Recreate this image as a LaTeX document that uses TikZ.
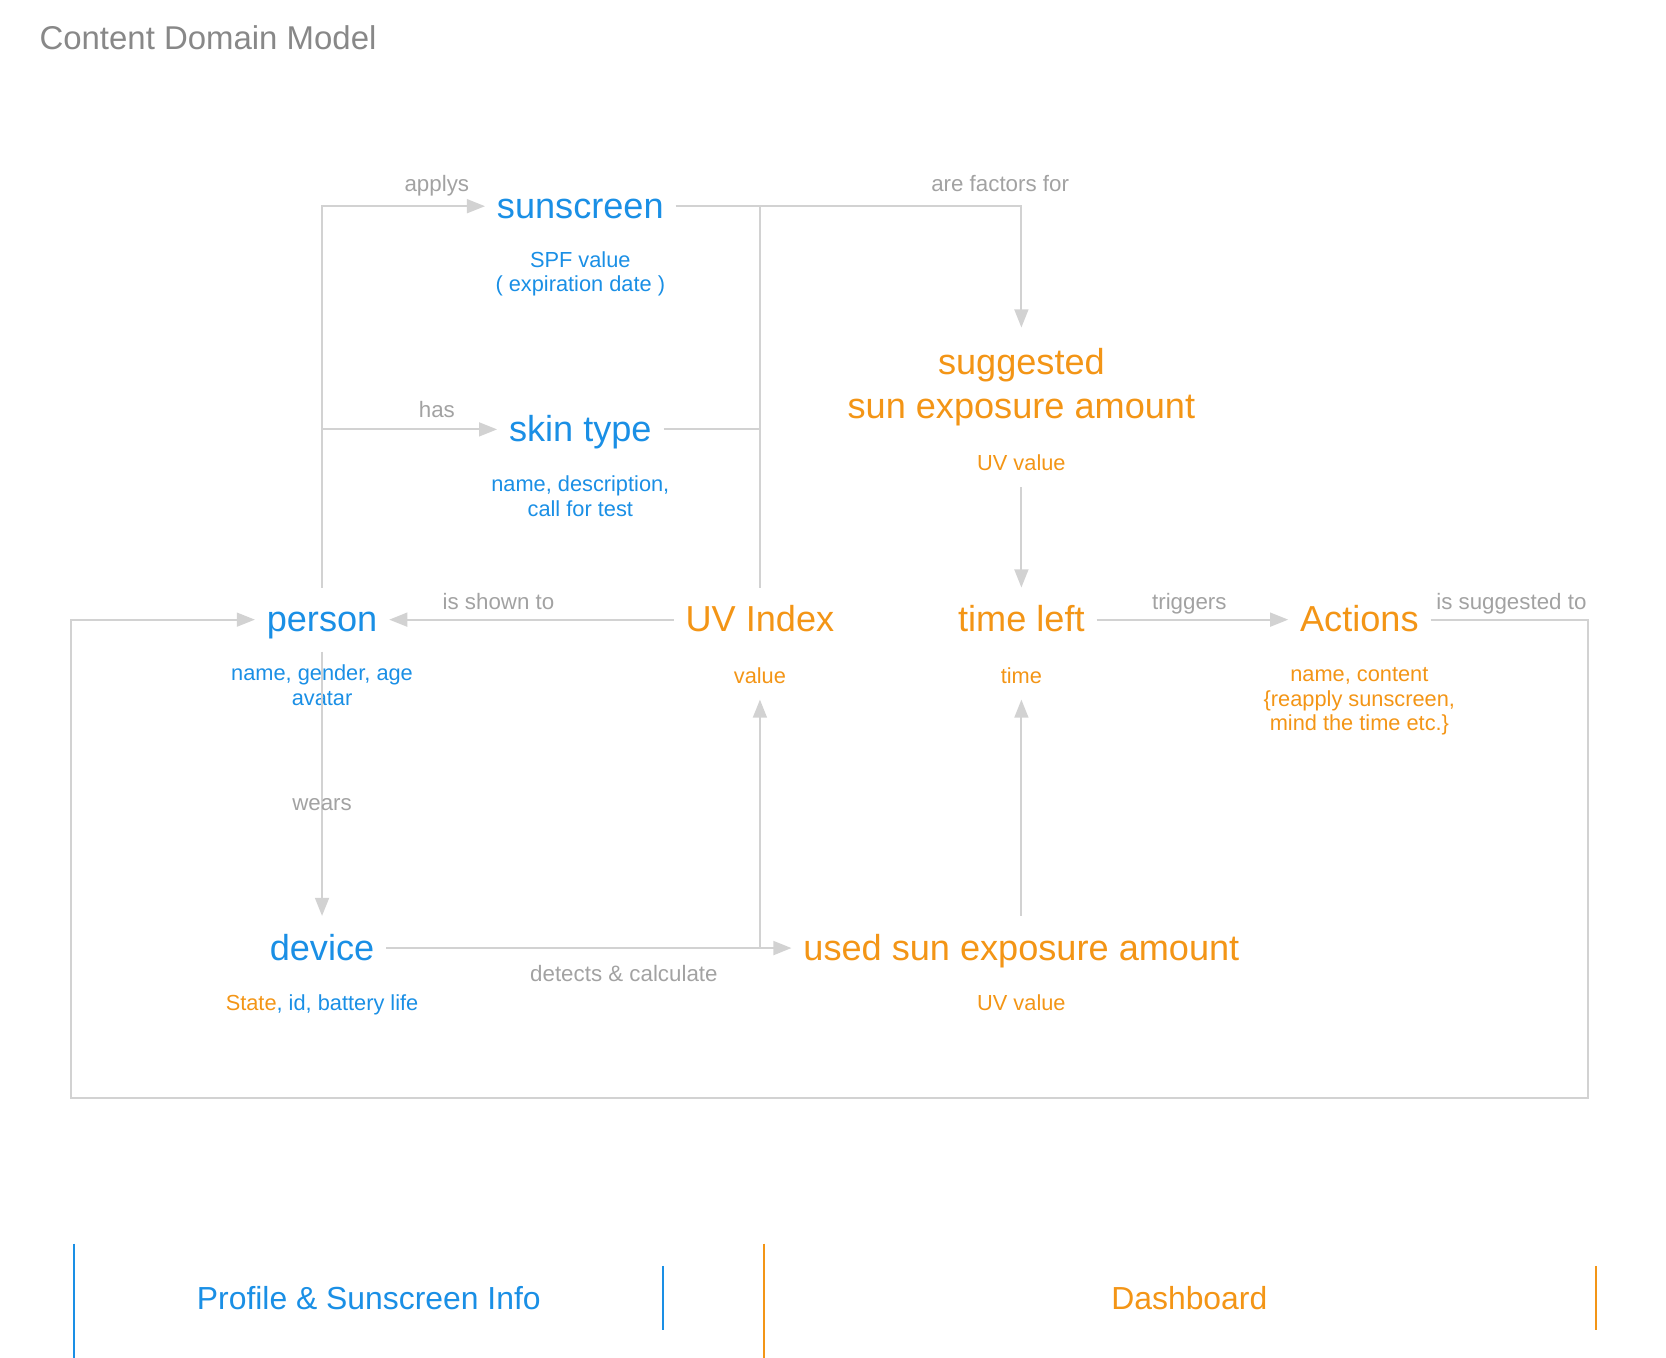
\documentclass[tikz,border=0pt]{standalone}
\usepackage{fontspec}
\setmainfont{Liberation Sans}
\usetikzlibrary{arrows.meta, calc}

\definecolor{skyblue}{RGB}{26,143,229}
\definecolor{sunorange}{RGB}{243,149,22}
\definecolor{linegray}{RGB}{210,210,210}
\definecolor{labelgray}{RGB}{162,162,162}
\definecolor{titlegray}{RGB}{136,136,136}

\begin{document}
\begin{tikzpicture}[x=1pt,y=-1pt,
     big/.style={font=\fontsize{34}{41}\selectfont},
     entity/.style={big,inner xsep=11pt,inner ysep=0pt,text height=41.5pt,text depth=18.5pt},
     attr/.style={inner sep=0pt,text height=30.8pt,text depth=15.2pt,font=\fontsize{20.5}{23}\selectfont},
     attrs/.style={inner sep=0pt,align=center,anchor=base,font=\fontsize{20.5}{23}\selectfont},
     rel/.style={inner sep=0pt,text height=18.5pt,text depth=2.5pt,text=labelgray,font=\fontsize{21}{24}\selectfont},
     section/.style={inner sep=0pt,text height=25.5pt,text depth=4.5pt,font=\fontsize{30}{36}\selectfont},
     link/.style={draw=linegray,line width=2pt,-{Triangle[length=17pt,width=13pt]}},
     plain/.style={draw=linegray,line width=2pt}
     ]
%Size of the whole page
\useasboundingbox (0,0) rectangle (1567.5,1277.7);

%Columns and rows of the model
\def \colA{303}
\def \colB{546}
\def \colC{715}
\def \colD{961}
\def \colE{1279}
\def \rowA{194}
\def \rowB{404}
\def \rowC{583}
\def \rowD{892}

%Heading
\node[anchor=base west,inner sep=0pt,text=titlegray,font=\fontsize{31}{36}\selectfont] (title) at (37,47) {Content Domain Model};

%Profile entities
\node[entity,text=skyblue] (sunscreen) at (\colB,\rowA) {sunscreen};
\node[entity,text=skyblue] (skin) at (\colB,\rowB) {skin type};
\node[entity,text=skyblue] (person) at (\colA,\rowC) {person};
\node[entity,text=skyblue] (device) at (\colA,\rowD) {device};

%Dashboard entities
\node[entity,text=sunorange] (uv) at (\colC,\rowC) {UV Index};
\node[entity,text=sunorange] (timeleft) at (\colD,\rowC) {time left};
\node[entity,text=sunorange] (actions) at (\colE,\rowC) {Actions};
\node[entity,text=sunorange] (used) at (\colD,\rowD) {used sun exposure amount};
\node[big,text=sunorange,align=center,anchor=base,inner xsep=0pt,inner ysep=19.5pt] (suggested) at (\colD,393.5) {suggested\\sun exposure amount};

%Attributes (placed at the baseline of their last line)
\node[attrs,text=skyblue] (sunattr) at (\colB,274.5) {SPF value\\( expiration date )};
\node[attrs,text=skyblue] (skinattr) at (\colB,485.5) {name, description,\\call for test};
\node[attrs,text=skyblue] (personattr) at (\colA,663.5) {name, gender, age\\avatar};
\node[attrs,text=skyblue] (deviceattr) at (\colA,950.5) {\textcolor{sunorange}{State}, id, battery life};
\node[attrs,text=sunorange] (actionattr) at (\colE,687.5) {name, content\\\{reapply sunscreen,\\mind the time etc.\}};
\node[attr,text=sunorange] (sugval) at (\colD,435) {UV value};
\node[attr,text=sunorange] (uvval) at (\colC,635) {value};
\node[attr,text=sunorange] (timeval) at (\colD,635) {time};
\node[attr,text=sunorange] (usedval) at (\colD,943) {UV value};

%Relations
\draw[link] (person.north) |- (sunscreen.west);
\draw[link] (person.north |- skin.west) -- (skin.west);
\draw[link] (sunscreen.east) -| (suggested.north);
\draw[plain] (skin.east) -- (skin.east -| uv.north);
\draw[plain] (uv.north) -- (uv.north |- sunscreen.east);
\draw[link] (sugval.south) -- (timeleft.north);
\draw[link] (timeleft.east) -- (actions.west);
\draw[link] (uv.west) -- (person.east);
\draw[link] (person.south) -- (device.north);
\draw[link] (device.east) -- (used.west);
\draw[link] (device.east -| uvval.south) -- (uvval.south);
\draw[link] (used.north) -- (timeval.south);

%Loop back from the actions to the person
\coordinate (ne) at (1494,\rowC);
\coordinate (se) at (1494,1033);
\coordinate (sw) at (67,1033);
\draw[link] (actions.east) -- (ne) -- (se) -- (sw) |- (person.west);

%Labels of the relations
\node[rel] (applys) at (411,172) {applys};
\node[rel] (factors) at (941,172) {are factors for};
\node[rel] (has) at (411,385) {has};
\node[rel] (shown) at (469,565) {is shown to};
\node[rel] (triggers) at (1119,565) {triggers};
\node[rel] (suggestedto) at (1422,565) {is suggested to};
\node[rel] (wears) at (\colA,755) {wears};
\node[rel] (detects) at (587,915) {detects \& calculate};

%Sections at the bottom
\foreach [count=\i] \lx/\rx/\mx/\c/\t in {70/624/347/skyblue/Profile \& Sunscreen Info,719/1502/1119/sunorange/Dashboard}
   {
\draw[draw=\c,line width=2pt] (\lx,1170) -- (\lx,1277.7);
\draw[draw=\c,line width=2pt] (\rx,1191) -- (\rx,1251);
\node[section,text=\c] (sec\i) at (\mx,1222) {\t};
   }
\end{tikzpicture}
\end{document}
